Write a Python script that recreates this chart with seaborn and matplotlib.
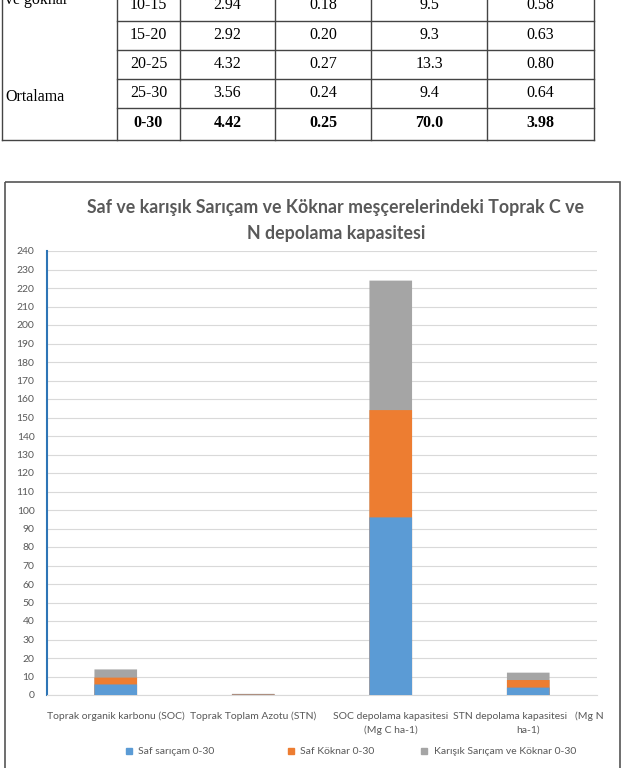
import matplotlib
matplotlib.use("Agg")
import matplotlib.pyplot as plt
import seaborn as sns
import pandas as pd
from matplotlib.patches import Rectangle
from matplotlib.lines import Line2D
from matplotlib.transforms import Bbox

# --- table rows visible at the top of the page ---
depths = ['10-15', '15-20', '20-25', '25-30', '0-30']
soc_pct = ['2.94', '2.92', '4.32', '3.56', '4.42']
stn_pct = ['0.18', '0.20', '0.27', '0.24', '0.25']
soc_stock = ['9.5', '9.3', '13.3', '9.4', '70.0']
stn_stock = ['0.58', '0.63', '0.80', '0.64', '3.98']
side_labels = ['ve göknar', 'Ortalama']

# --- chart data ---
categories = ['Toprak organik karbonu (SOC)',
              'Toprak Toplam Azotu (STN)',
              'SOC depolama kapasitesi\n(Mg C ha-1)',
              'STN depolama kapasitesi   (Mg N\nha-1)']
series = ['Saf sarıçam 0-30', 'Saf Köknar 0-30', 'Karışık Sarıçam ve Köknar 0-30']
saf_saricam = [5.7, 0.18, 96.0, 4.0]
saf_koknar = [3.7, 0.19, 58.0, 4.1]
karisik = [4.42, 0.25, 70.0, 3.98]
colors = ['#5B9BD5', '#ED7D31', '#A5A5A5']
yticks = list(range(0, 250, 10))

W, H = 628, 768
fig = plt.figure(figsize=(W / 100, H / 100), dpi=100)
fig.patch.set_facecolor('white')

# overlay in page pixels for the table and the chart frame
ov = fig.add_axes([0, 0, 1, 1], zorder=0)
ov.set_xlim(0, W)
ov.set_ylim(H, 0)
ov.axis('off')

col_x = [2, 117, 180, 275, 371, 487, 594]
row_y = [21, 50, 79, 108]
tbl_bottom = 140
line_kw = dict(color='#444444', lw=1.0)
for x in col_x:
    ov.add_line(Line2D([x, x], [0, tbl_bottom], **line_kw))
for y in row_y:
    ov.add_line(Line2D([col_x[1], col_x[-1]], [y, y], **line_kw))
ov.add_line(Line2D([col_x[0], col_x[-1]], [tbl_bottom, tbl_bottom], **line_kw))

text_y = [5, 35, 64, 93, 123]
cols = [depths, soc_pct, stn_pct, soc_stock, stn_stock]
for ci, col in enumerate(cols):
    cx = (col_x[ci + 1] + col_x[ci + 2]) / 2
    for ri, val in enumerate(col):
        ov.text(cx, text_y[ri], val, ha='center', va='center',
                family='Liberation Serif', fontsize=11.5,
                fontweight='bold' if ri == len(col) - 1 else 'normal')
ov.text(5, 0, side_labels[0], ha='left', va='center', family='Liberation Serif', fontsize=11.5)
ov.text(5, 97, side_labels[1], ha='left', va='center', family='Liberation Serif', fontsize=11.5)

ov.add_patch(Rectangle((5, 182), 615, 590, fill=False, ec='#555555', lw=1.2))

# --- chart ---
ax = fig.add_axes([47 / W, 1 - 695 / H, 550 / W, (695 - 251) / H], zorder=1)
ax.set_facecolor('white')

df = pd.DataFrame({'kategori': categories,
                   series[0]: saf_saricam,
                   series[1]: saf_koknar,
                   series[2]: karisik})
tops = df[series].cumsum(axis=1)
for name, c in reversed(list(zip(series, colors))):
    sns.barplot(x=df['kategori'], y=tops[name], color=c, width=0.31,
                order=categories, ax=ax, saturation=1, zorder=3, snap=False)

ax.set_ylim(0, 240)
ax.set_yticks(yticks)
ax.set_xlim(-0.5, 3.5)
ax.set_xlabel('')
ax.set_ylabel('')
ax.grid(axis='y', color='#D9D9D9', lw=0.8, zorder=0)
ax.set_axisbelow(True)
for s in ['top', 'right']:
    ax.spines[s].set_visible(False)
ax.spines['bottom'].set_color('#D9D9D9')
ax.spines['left'].set_color('#2E75B6')
ax.spines['left'].set_linewidth(1.5)
ax.tick_params(axis='y', length=0, pad=9, labelsize=7.5, labelcolor='#595959')
ax.tick_params(axis='x', length=0, pad=12, labelsize=7.5, labelcolor='#595959')
for lab in ax.get_yticklabels() + ax.get_xticklabels():
    lab.set_family('Lato')
clip = Bbox.from_extents(0, 0, 619, H)
for lab in ax.get_xticklabels():
    lab.set_linespacing(1.6)
    lab.set_clip_on(True)
    lab.set_clip_box(clip)

title_kw = dict(ha='center', va='center', family='Lato', fontweight='bold',
                fontsize=12.8, color='#595959')
fig.text(0.535, 1 - 207 / H, 'Saf ve karışık Sarıçam ve Köknar meşçerelerindeki Toprak C ve', **title_kw)
fig.text(0.535, 1 - 233 / H, 'N depolama kapasitesi', **title_kw)

# legend entries placed like the Excel legend (uneven slots)
legend_x = [126, 288, 421]
for name, c, lx in zip(series, colors, legend_x):
    leg = fig.legend([Rectangle((0, 0), 1, 1, color=c)], [name], loc='center left',
                     bbox_to_anchor=(lx / W, 1 - 752 / H), frameon=False,
                     borderpad=0, borderaxespad=0, handlelength=0.6, handleheight=0.6,
                     handletextpad=0.6, prop={'family': 'Lato', 'size': 7.5})
    for t in leg.get_texts():
        t.set_color('#595959')

fig.savefig('out.png', dpi=100)
